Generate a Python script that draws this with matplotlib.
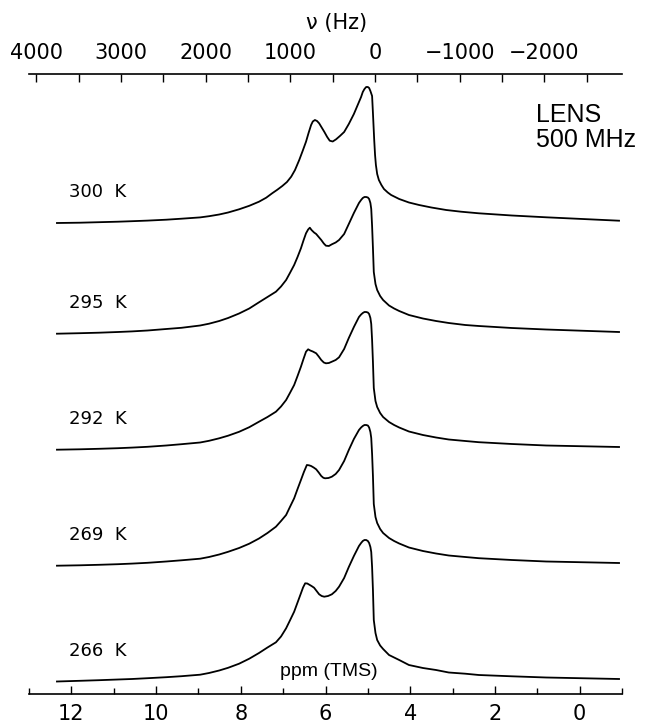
import matplotlib.pyplot as plt
from matplotlib.ticker import MultipleLocator, FixedLocator

# 1H spectra at several temperatures (ppm, intensity above baseline)
ppm_300 = [12.34, 11.8, 11.35, 10.9, 10.57, 10.2, 9.76, 9.4, 8.96, 8.75, 8.51, 8.3, 8.04, 7.80,
           7.57, 7.40, 7.26, 7.14, 7.02, 6.91, 6.81, 6.72, 6.62, 6.54, 6.46, 6.40, 6.34, 6.30,
           6.25, 6.20, 6.15, 6.09, 6.03, 5.96, 5.90, 5.83, 5.75, 5.66, 5.56, 5.45, 5.33, 5.21,
           5.16, 5.12, 5.08, 5.04, 5.00, 4.97, 4.94, 4.90, 4.88, 4.85, 4.83, 4.81, 4.78, 4.74,
           4.68, 4.62, 4.53, 4.45, 4.26, 4.03, 3.79, 3.50, 3.15, 2.80, 2.38, 1.60, 0.79, -0.93]
int_300 = [0, 0.3, 0.8, 1.3, 1.8, 2.4, 3.3, 4.3, 5.6, 6.8, 8.5, 10.5, 13.7, 17.2,
           21.3, 25.3, 29.7, 33.2, 37, 41, 46.3, 53, 63, 72, 81.3, 90, 98, 101.5,
           103, 102, 99.7, 95.5, 91.3, 86, 82.3, 81.5, 83.7, 87, 91, 99, 109, 121,
           126, 131, 134, 136, 136, 135, 132, 127, 110, 83, 68, 58, 49, 43,
           38, 34, 30.5, 28, 24, 20.5, 18, 15.5, 13, 11.3, 9.7, 7.5, 5.7, 2.3]

ppm_295 = [12.34, 11.8, 11.35, 10.9, 10.57, 10.2, 9.76, 9.4, 8.96, 8.75, 8.51, 8.3, 8.04, 7.80,
           7.57, 7.37, 7.17, 7.05, 6.93, 6.84, 6.74, 6.66, 6.58, 6.52, 6.46, 6.41, 6.37, 6.33,
           6.27, 6.22, 6.16, 6.10, 6.04, 5.99, 5.92, 5.85, 5.76, 5.68, 5.56, 5.45, 5.33, 5.21,
           5.16, 5.12, 5.08, 5.04, 5.00, 4.97, 4.94, 4.92, 4.90, 4.88, 4.86, 4.82, 4.78, 4.71,
           4.64, 4.50, 4.38, 4.26, 4.03, 3.70, 3.39, 3.09, 2.70, 2.38, 1.60, 0.79, -0.93]
int_295 = [0.3, 0.8, 1.3, 2, 2.6, 3.5, 5, 6.2, 8.5, 10.3, 13, 16, 20.5, 25.5,
           31.7, 37, 42.3, 47.5, 54, 61, 69, 77, 85.7, 93.5, 100.7, 104.5, 106.3, 104,
           101.5, 100, 97, 94, 90.5, 88.3, 88, 89.7, 91.5, 94, 100, 110, 121, 131,
           134, 136, 137, 137, 136.5, 135, 131, 125, 108, 86, 62, 50, 44, 38,
           34, 28.5, 25.5, 23, 19, 15.5, 13, 11, 9, 8, 6, 4.5, 2]

ppm_292 = [12.34, 11.8, 11.35, 10.9, 10.57, 10.2, 9.76, 9.4, 8.96, 8.75, 8.51, 8.3, 8.04, 7.80,
           7.57, 7.37, 7.17, 7.05, 6.93, 6.84, 6.74, 6.66, 6.58, 6.52, 6.46, 6.41, 6.36, 6.30,
           6.22, 6.16, 6.10, 6.04, 5.99, 5.92, 5.85, 5.76, 5.68, 5.56, 5.45, 5.33, 5.21,
           5.16, 5.12, 5.08, 5.04, 5.00, 4.97, 4.94, 4.92, 4.90, 4.88, 4.86, 4.82, 4.78, 4.71,
           4.64, 4.50, 4.38, 4.26, 4.03, 3.70, 3.39, 3.09, 2.70, 2.38, 1.60, 0.79, -0.93]
int_292 = [0.3, 0.7, 1.2, 1.8, 2.4, 3.2, 4.5, 5.8, 7.5, 9.2, 11.7, 14.3, 18.2, 22.8,
           28.3, 33, 38.3, 43.5, 50, 57, 65, 74, 83.3, 91, 98.3, 100.7, 99.5, 98.5,
           96.7, 93.5, 90, 87.5, 86.7, 87, 88.3, 90, 92.7, 101, 112, 123, 133,
           135.5, 137, 138, 138, 137.5, 136, 132, 126, 110, 88, 62, 49, 43, 37,
           33, 28, 25, 22.5, 18.5, 15, 12.5, 10.5, 9, 7.8, 6, 4.5, 3]

ppm_269 = [12.34, 11.8, 11.35, 10.9, 10.57, 10.2, 9.76, 9.4, 8.96, 8.75, 8.51, 8.3, 8.04, 7.80,
           7.57, 7.37, 7.17, 7.05, 6.93, 6.84, 6.74, 6.66, 6.58, 6.51, 6.44, 6.39, 6.34, 6.28,
           6.22, 6.16, 6.10, 6.05, 6.01, 5.93, 5.85, 5.76, 5.68, 5.56, 5.45, 5.33, 5.21,
           5.16, 5.12, 5.08, 5.04, 5.00, 4.97, 4.94, 4.92, 4.90, 4.88, 4.86, 4.82, 4.78, 4.71,
           4.64, 4.50, 4.38, 4.26, 4.03, 3.70, 3.39, 3.09, 2.70, 2.38, 1.60, 0.79, -0.93]
int_269 = [0.3, 0.7, 1.2, 1.8, 2.4, 3.2, 4.5, 5.7, 7.3, 9, 11.5, 14.2, 18, 22.3,
           27.5, 33, 39.3, 45, 51, 59, 67.7, 77, 86, 94, 101, 100.7, 100, 98.5,
           96.7, 93.5, 90, 88.2, 87.7, 88, 89.3, 92, 96, 105, 116, 127, 136,
           138.5, 140, 141, 141, 140.5, 138.5, 134, 128, 112, 90, 62, 49, 43, 37,
           33, 28, 25, 22.5, 18.5, 15, 12.5, 10.5, 9, 7.8, 6, 4.5, 3]

ppm_266 = [12.34, 11.8, 11.35, 10.9, 10.57, 10.2, 9.76, 9.4, 8.96, 8.75, 8.51, 8.3, 8.04, 7.80,
           7.57, 7.37, 7.17, 7.05, 6.93, 6.84, 6.74, 6.66, 6.58, 6.53, 6.48, 6.43, 6.39, 6.33,
           6.27, 6.21, 6.15, 6.09, 6.03, 5.94, 5.85, 5.76, 5.68, 5.56, 5.45, 5.33, 5.21,
           5.16, 5.12, 5.08, 5.04, 5.00, 4.97, 4.94, 4.92, 4.90, 4.88, 4.86, 4.82, 4.78, 4.71,
           4.64, 4.50, 4.38, 4.26, 4.03, 3.70, 3.39, 3.09, 2.70, 2.38, 1.60, 0.79, -0.93]
int_266 = [0.5, 1.2, 1.8, 2.5, 3, 3.8, 4.8, 5.8, 7.3, 9, 11.5, 14.2, 18.3, 23.3,
           29, 34.5, 39.7, 45.5, 53.7, 61.5, 70.3, 79.5, 88.7, 94.5, 98.7, 98.5, 97.5, 96,
           94.3, 91, 87.7, 86, 85.3, 86, 87.7, 91, 95.3, 104, 115, 126, 136,
           139, 141, 142, 142, 141, 139, 135, 130, 115, 92, 62, 49, 42, 36.5,
           33, 27, 24.5, 22, 17, 14, 12, 9.5, 8.3, 7, 5.7, 4.5, 3]

temps = ["300 K", "295 K", "292 K", "269 K", "266 K"]
spectra = [(ppm_300, int_300), (ppm_295, int_295), (ppm_292, int_292),
           (ppm_269, int_269), (ppm_266, int_266)]
offsets = [471, 360, 244, 128, 12]

hz_ticks = [4000, 3000, 2000, 1000, 0, -1000, -2000]
hz_minor = [3500, 2500, 1500, 500, -500, -1500, -2500]

fig = plt.figure(figsize=(6.47, 7.27), dpi=100)
ax = fig.add_axes([29 / 647, 1 - 694 / 727, 593 / 647, 620 / 727])
ax.set_xlim(13, -1)
ax.set_ylim(0, 620)

for (x, y), off, t in zip(spectra, offsets, temps):
    ax.plot(x, [v + off for v in y], color="black", lw=1.3, solid_joinstyle="round")
    ax.text(12.05, off + 26, t.replace(" ", "  "), fontsize=13, ha="left", va="baseline",
            family="DejaVu Sans")

for s in ["left", "right", "top"]:
    ax.spines[s].set_visible(False)
ax.spines["bottom"].set_linewidth(1.2)
ax.set_yticks([])
ax.xaxis.set_major_locator(MultipleLocator(2))
ax.xaxis.set_minor_locator(MultipleLocator(1))
ax.tick_params(axis="x", which="major", direction="in", length=6, width=1, pad=7, labelsize=15)
ax.tick_params(axis="x", which="minor", direction="in", length=4.5, width=1)

# frequency scale relative to the water line
top = ax.secondary_xaxis("top", functions=(lambda p: (p - 4.83) * 500, lambda h: h / 500 + 4.83))
top.spines["top"].set_linewidth(1.2)
top.xaxis.set_major_locator(FixedLocator(hz_ticks))
top.xaxis.set_minor_locator(FixedLocator(hz_minor))
top.tick_params(axis="x", which="both", direction="in", length=5.5, width=1, pad=8, labelsize=15)

ax.text(5.92, 18, "ppm (TMS)", fontsize=14, ha="center", va="baseline", family="Liberation Sans")
fig.text(337 / 647, 1 - 29 / 727, "ν (Hz)", fontsize=15, ha="center", va="baseline")
fig.text(536 / 647, 1 - 121.7 / 727, "LENS", fontsize=18, ha="left", va="baseline",
         family="Liberation Sans")
fig.text(536 / 647, 1 - 146.7 / 727, "500 MHz", fontsize=18, ha="left", va="baseline",
         family="Liberation Sans")

fig.savefig("out.png", dpi=100)
